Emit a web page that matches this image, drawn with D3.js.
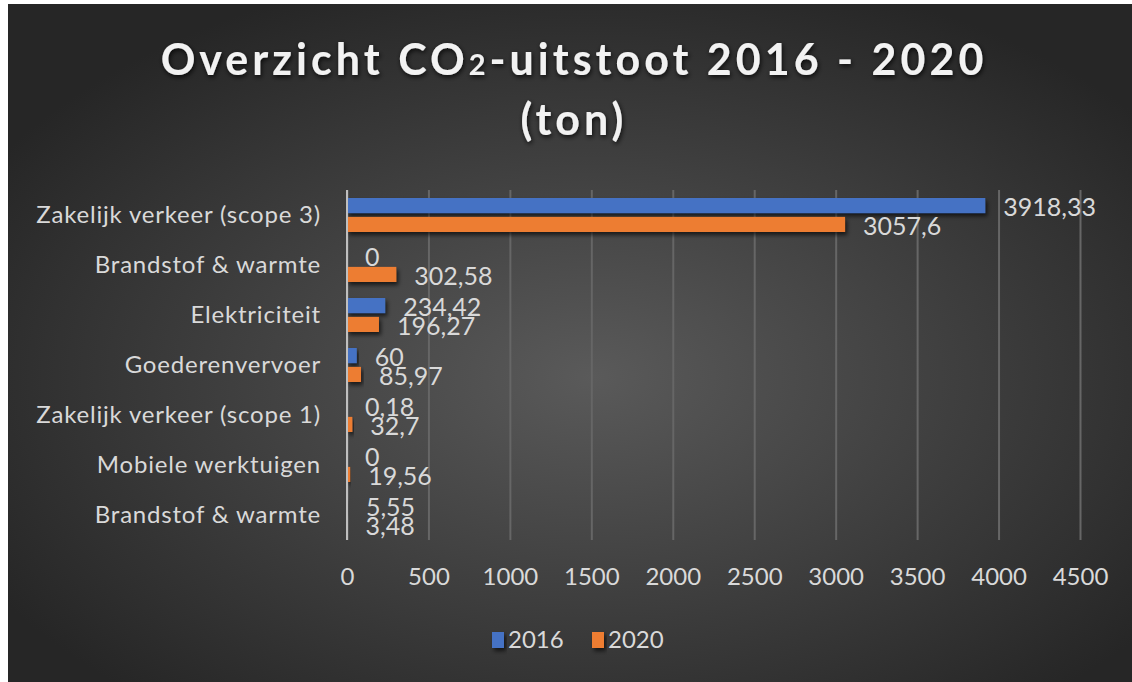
<!DOCTYPE html>
<html>
<head>
<meta charset="utf-8">
<script src="https://cdn.jsdelivr.net/npm/d3@7"></script>
<style>
  body { margin: 0; background: #ffffff; }
  text { font-family: Lato, "Open Sans", sans-serif; }
</style>
</head>
<body>
<div id="chart"></div>
<script>
// data
var categories = ["Zakelijk verkeer (scope 3)", "Brandstof & warmte", "Elektriciteit",
                  "Goederenvervoer", "Zakelijk verkeer (scope 1)", "Mobiele werktuigen",
                  "Brandstof & warmte"];
var series = ["2016", "2020"];
var values2016 = [3918.33, 0, 234.42, 60, 0.18, 0, 5.55];
var values2020 = [3057.6, 302.58, 196.27, 85.97, 32.7, 19.56, 3.48];
var xTicks = [0, 500, 1000, 1500, 2000, 2500, 3000, 3500, 4000, 4500];
var colors = ["#4472c4", "#ed7d31"];

var W = 1132, H = 682;
var margin = {top: 190, right: 52, bottom: 142, left: 347},
    width = W - margin.left - margin.right,
    height = H - margin.top - margin.bottom;

var svg = d3.select("#chart")
  .append("svg")
    .attr("width", W)
    .attr("height", H);

var defs = svg.append("defs");
var grad = defs.append("radialGradient")
    .attr("id", "bg")
    .attr("cx", "52%").attr("cy", "55%").attr("r", "62%");
grad.append("stop").attr("offset", "0%").attr("stop-color", "#5a5a5a");
grad.append("stop").attr("offset", "100%").attr("stop-color", "#262626");

var shadow = defs.append("filter").attr("id", "shadow")
    .attr("x", "-10%").attr("y", "-30%").attr("width", "130%").attr("height", "180%");
shadow.append("feDropShadow")
    .attr("dx", 2).attr("dy", 3).attr("stdDeviation", 2)
    .attr("flood-color", "#000").attr("flood-opacity", 0.65);

var tshadow = defs.append("filter").attr("id", "tshadow")
    .attr("x", "-5%").attr("y", "-20%").attr("width", "110%").attr("height", "150%");
tshadow.append("feDropShadow")
    .attr("dx", 1).attr("dy", 2).attr("stdDeviation", 2.5)
    .attr("flood-color", "#000").attr("flood-opacity", 0.8);

// background (with the white crop edge at top and left)
svg.append("rect")
    .attr("x", 8).attr("y", 4)
    .attr("width", W - 8).attr("height", H - 4)
    .attr("fill", "url(#bg)");

// title
var title = svg.append("text")
    .attr("x", 574)
    .attr("y", 75)
    .attr("text-anchor", "middle")
    .attr("fill", "#f2f2f2")
    .style("font-size", "43px")
    .style("font-weight", "bold")
    .style("letter-spacing", "4px")
    .attr("filter", "url(#tshadow)");
title.append("tspan").text("Overzicht CO");
title.append("tspan").style("font-size", "29px").text("2");
title.append("tspan").text("-uitstoot 2016 - 2020");

svg.append("text")
    .attr("x", 574)
    .attr("y", 135)
    .attr("text-anchor", "middle")
    .attr("fill", "#f2f2f2")
    .style("font-size", "43px")
    .style("font-weight", "bold")
    .style("letter-spacing", "4px")
    .attr("filter", "url(#tshadow)")
    .text("(ton)");

var g = svg.append("g")
    .attr("transform", "translate(" + margin.left + "," + margin.top + ")");

// X scale
var x = d3.scaleLinear()
  .domain([0, 4500])
  .range([0, width]);

// gridlines
g.append("g")
  .attr("class", "grid")
  .attr("transform", "translate(0," + height + ")")
  .call(d3.axisBottom(x).tickValues(xTicks).tickSize(-height).tickFormat(""))
  .call(function(s) {
    s.select(".domain").remove();
    s.selectAll("line").attr("stroke", "#666666").attr("stroke-width", 2);
  });

// tick labels
g.append("g")
  .attr("transform", "translate(0," + height + ")")
  .call(d3.axisBottom(x).tickValues(xTicks).tickSize(0).tickPadding(28)
          .tickFormat(d3.format("d")))
  .call(function(s) {
    s.select(".domain").remove();
    s.selectAll("text")
      .attr("fill", "#d9d9d9")
      .style("font-size", "24px")
      .style("font-family", "Lato, sans-serif");
  });

// Y scales
var y = d3.scaleBand()
  .domain(d3.range(categories.length))
  .range([0, height])
  .paddingInner(0.32)
  .paddingOuter(0.16);

var ySub = d3.scaleBand()
  .domain(series)
  .range([0, y.bandwidth()])
  .paddingInner(0.2);

// category labels
g.append("g")
  .selectAll("text")
  .data(categories)
  .enter()
  .append("text")
    .attr("x", -26)
    .attr("y", function(d, i) { return y(i) + y.bandwidth() / 2; })
    .attr("dy", "0.35em")
    .attr("text-anchor", "end")
    .attr("fill", "#d9d9d9")
    .style("font-size", "24px")
    .style("letter-spacing", "0.8px")
    .text(function(d) { return d; });

var rows = [];
categories.forEach(function(c, i) {
  rows.push({cat: i, s: "2016", v: values2016[i], color: colors[0]});
  rows.push({cat: i, s: "2020", v: values2020[i], color: colors[1]});
});

// Bars
g.selectAll("rect.bar")
  .data(rows)
  .enter()
  .append("rect")
    .attr("class", "bar")
    .attr("x", x(0))
    .attr("y", function(d) { return y(d.cat) + ySub(d.s); })
    .attr("width", function(d) { return x(d.v) - x(0); })
    .attr("height", ySub.bandwidth())
    .attr("fill", function(d) { return d.color; })
    .attr("filter", "url(#shadow)");

// axis line at zero
g.append("line")
  .attr("x1", x(0)).attr("x2", x(0))
  .attr("y1", 0).attr("y2", height)
  .attr("stroke", "#bfbfbf")
  .attr("stroke-width", 2);

// data labels
g.selectAll("text.lbl")
  .data(rows)
  .enter()
  .append("text")
    .attr("class", "lbl")
    .attr("x", function(d) { return x(d.v) + 18; })
    .attr("y", function(d) { return y(d.cat) + ySub(d.s) + ySub.bandwidth() / 2 + 2; })
    .attr("dy", "0.35em")
    .attr("fill", "#d9d9d9")
    .style("font-size", "25px")
    .text(function(d) { return String(d.v).replace(".", ","); });

// legend
var legend = svg.append("g")
  .attr("transform", "translate(492,640)");
var item = legend.selectAll("g")
  .data(series)
  .enter()
  .append("g")
    .attr("transform", function(d, i) { return "translate(" + (i * 100) + ",0)"; });
item.append("rect")
  .attr("x", 0).attr("y", -8)
  .attr("width", 12).attr("height", 16)
  .attr("fill", function(d, i) { return colors[i]; })
  .attr("filter", "url(#shadow)");
item.append("text")
  .attr("x", 16)
  .attr("y", 0)
  .attr("dy", "0.35em")
  .attr("fill", "#d9d9d9")
  .style("font-size", "24px")
  .text(function(d) { return d; });
</script>
</body>
</html>
